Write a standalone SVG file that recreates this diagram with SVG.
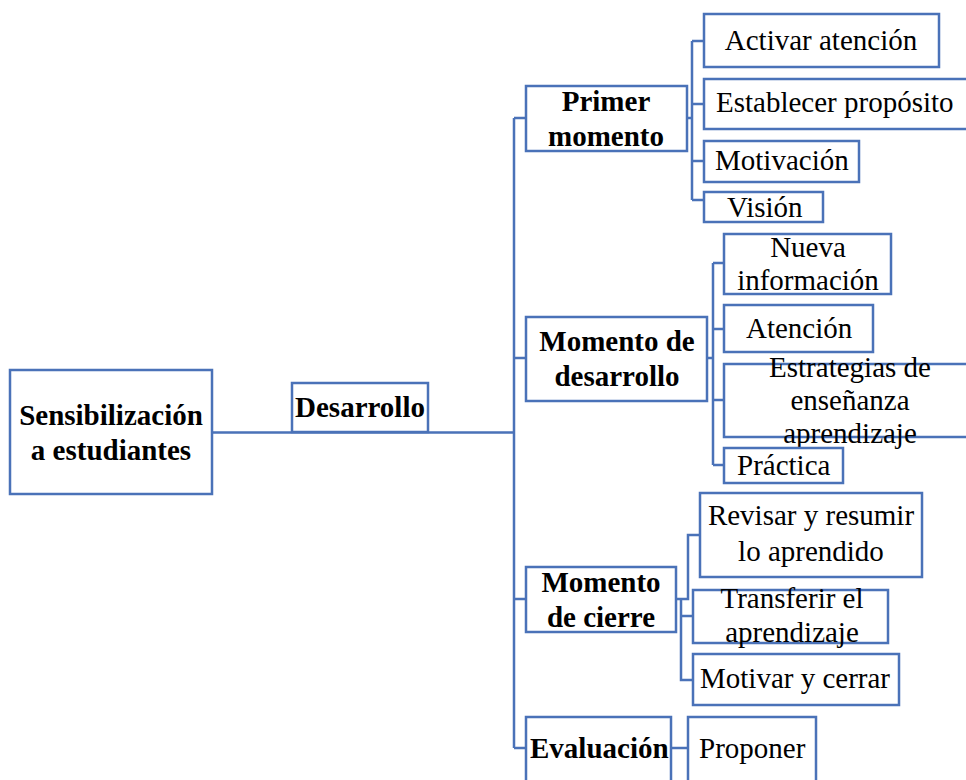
<svg xmlns="http://www.w3.org/2000/svg" width="966" height="780" viewBox="0 0 966 780">
<style>
.b{fill:#fff;stroke:#4a72b8;stroke-width:2.5}
.c{fill:none;stroke:#4a72b8;stroke-width:2.5}
text{font-family:"Liberation Serif","Times New Roman",serif;font-size:29px;fill:#000}
.bd{font-weight:bold}
.m{text-anchor:middle}
</style>
<rect width="966" height="780" fill="#fff"/>
<g id="connectors">
<path class="c" d="M212,432.5 H514 M514,118 V748 M514,118 H526 M514,358 H526 M514,599 H526 M514,748 H526"/>
<path class="c" d="M687,118 H692 M692,41 V200 M692,41 H704 M692,104 H704 M692,161 H704 M692,200 H704"/>
<path class="c" d="M707,358 H713 M713,263 V465 M713,263 H724 M713,329 H724 M713,400 H724 M713,465 H724"/>
<path class="c" d="M676,599 H688 V535 H700 M681,599 V680 H693 M681,616 H693"/>
<path class="c" d="M671,748 H688"/>
</g>
<g id="sensibilizacion"><rect class="b" x="10" y="370" width="202" height="124"/><text class="bd m" x="111" y="425">Sensibilización</text><text class="bd m" x="111" y="460">a estudiantes</text></g>
<g id="desarrollo"><rect class="b" x="292" y="383" width="136" height="49"/><text class="bd m" x="360" y="417">Desarrollo</text></g>
<g id="primer"><rect class="b" x="526" y="86" width="161" height="65"/><text class="bd m" x="606" y="111">Primer</text><text class="bd m" x="606" y="146">momento</text></g>
<g id="activar"><rect class="b" x="704" y="14" width="235" height="53"/><text class="m" x="821" y="50">Activar atención</text></g>
<g id="establecer"><rect class="b" x="704" y="79" width="280" height="50"/><text x="716" y="112">Establecer propósito</text></g>
<g id="motivacion"><rect class="b" x="704" y="141" width="155" height="41"/><text x="715" y="170">Motivación</text></g>
<g id="vision"><rect class="b" x="704" y="192" width="119" height="30"/><text x="727" y="217">Visión</text></g>
<g id="desarrollo-m"><rect class="b" x="526" y="317" width="181" height="84"/><text class="bd m" x="617" y="351">Momento de</text><text class="bd m" x="617" y="386">desarrollo</text></g>
<g id="nueva"><rect class="b" x="724" y="234" width="167" height="60"/><text class="m" x="808" y="257">Nueva</text><text class="m" x="808" y="290">información</text></g>
<g id="atencion"><rect class="b" x="724" y="305" width="149" height="47"/><text x="746" y="338">Atención</text></g>
<g id="estrategias"><rect class="b" x="724" y="364" width="260" height="73" style="fill:none"/><text class="m" x="850" y="377">Estrategias de</text><text class="m" x="850" y="410">enseñanza</text><text class="m" x="850" y="443">aprendizaje</text></g>
<g id="practica"><rect class="b" x="724" y="448" width="119" height="35"/><text x="737" y="475">Práctica</text></g>
<g id="cierre"><rect class="b" x="526" y="567" width="150" height="65"/><text class="bd m" x="601" y="592">Momento</text><text class="bd m" x="601" y="627">de cierre</text></g>
<g id="revisar"><rect class="b" x="700" y="493" width="222" height="84"/><text class="m" x="811" y="525">Revisar y resumir</text><text class="m" x="811" y="561">lo aprendido</text></g>
<g id="transferir"><rect class="b" x="693" y="590" width="195" height="53" style="fill:none"/><text class="m" x="792" y="608">Transferir el</text><text class="m" x="792" y="642">aprendizaje</text></g>
<g id="motivar"><rect class="b" x="693" y="654" width="206" height="51"/><text x="700" y="688">Motivar y cerrar</text></g>
<g id="evaluacion"><rect class="b" x="526" y="717" width="145" height="80"/><text class="bd" x="530" y="758">Evaluación</text></g>
<g id="proponer"><rect class="b" x="688" y="717" width="128" height="80"/><text x="699" y="758">Proponer</text></g>
</svg>
